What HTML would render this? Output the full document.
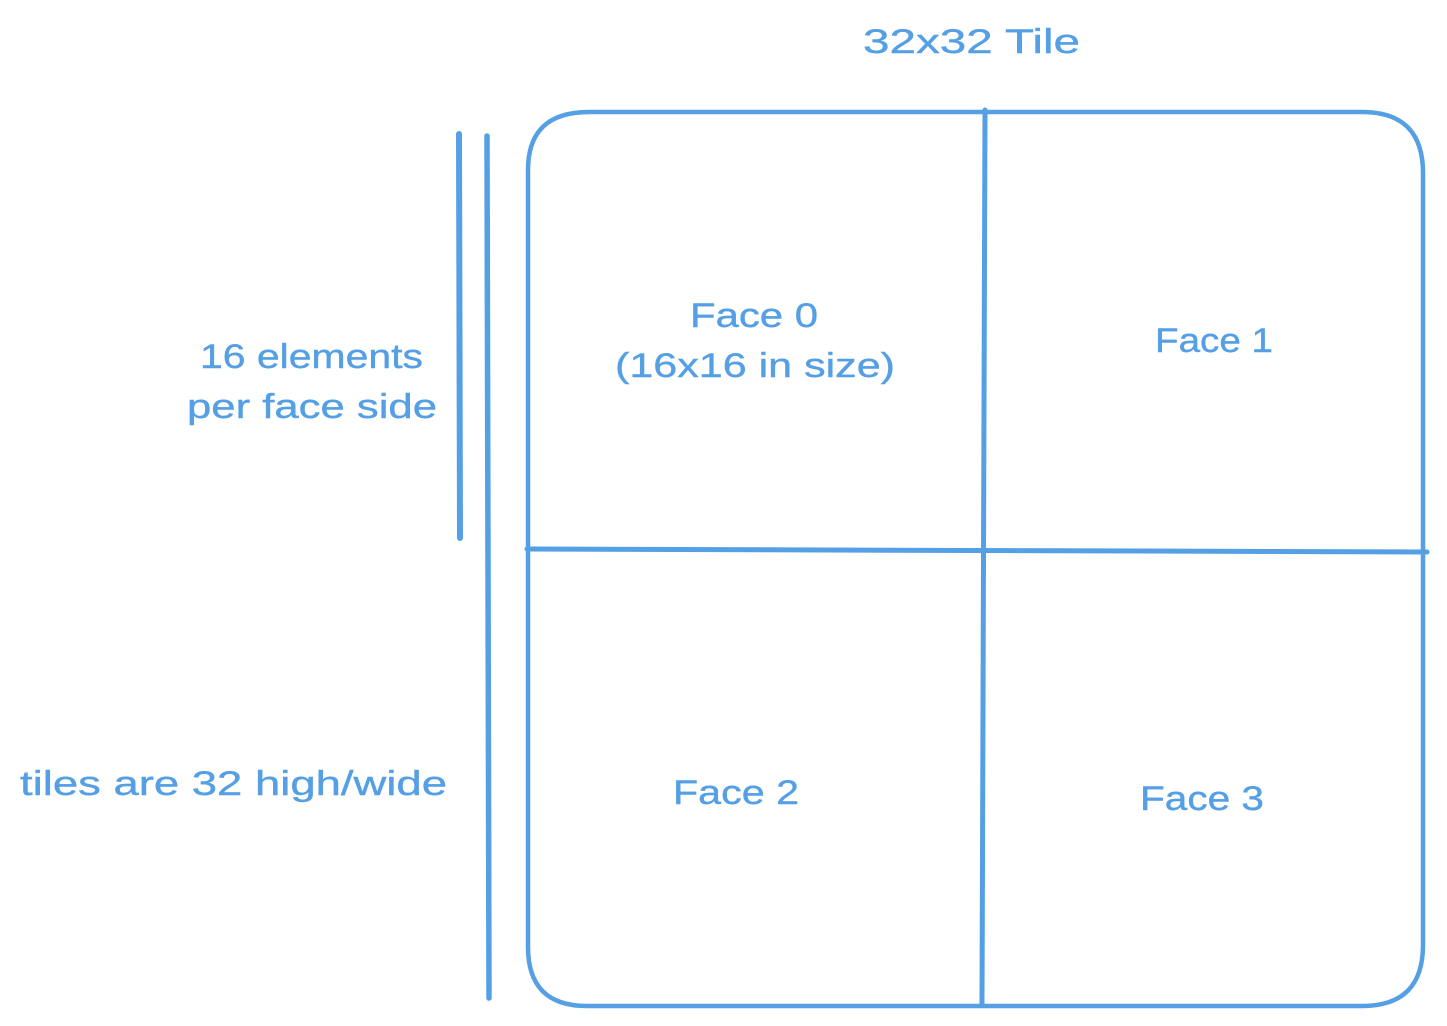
<!DOCTYPE html>
<html>
<head>
<meta charset="utf-8">
<style>
  html, body { margin:0; padding:0; background:#ffffff; }
  body { width:1447px; height:1026px; overflow:hidden; }
  svg { display:block; }
  text { font-family:"Liberation Sans", "DejaVu Sans", sans-serif; fill:#559fe5; font-size:34px; stroke:#559fe5; stroke-width:0.4px; }
</style>
</head>
<body>
<svg width="1447" height="1026" viewBox="0 0 1447 1026" xmlns="http://www.w3.org/2000/svg">
  <g fill="none" stroke="#559fe5" stroke-linecap="round" stroke-linejoin="round">
    <!-- outer rounded tile -->
    <path d="M589 112 L1362 112 Q1423 112 1423 173 L1423 945 Q1423 1006 1362 1006 L587 1006 Q528 1006 528 947 L528 170 Q528 112 589 112 Z" stroke-width="4.5"/>
    <!-- vertical divider -->
    <path d="M985 110 L982 1004" stroke-width="5"/>
    <!-- horizontal divider -->
    <path d="M527 549 L1427 552" stroke-width="5"/>
    <!-- left measurement lines -->
    <path d="M459 134 L460 538" stroke-width="6"/>
    <path d="M487 136 L489 998" stroke-width="5.5"/>
  </g>

  <text x="863" y="53" textLength="217" lengthAdjust="spacingAndGlyphs">32x32 Tile</text>

  <text x="690" y="327" textLength="128" lengthAdjust="spacingAndGlyphs">Face 0</text>
  <text x="615" y="377" textLength="280" lengthAdjust="spacingAndGlyphs">(16x16 in size)</text>

  <text x="1155" y="352" textLength="118" lengthAdjust="spacingAndGlyphs">Face 1</text>
  <text x="673" y="804" textLength="126" lengthAdjust="spacingAndGlyphs">Face 2</text>
  <text x="1140" y="810" textLength="124" lengthAdjust="spacingAndGlyphs">Face 3</text>

  <text x="200" y="368" textLength="223" lengthAdjust="spacingAndGlyphs">16 elements</text>
  <text x="187" y="418" textLength="250" lengthAdjust="spacingAndGlyphs">per face side</text>

  <text x="20" y="795" textLength="427" lengthAdjust="spacingAndGlyphs">tiles are 32 high/wide</text>
</svg>
</body>
</html>
